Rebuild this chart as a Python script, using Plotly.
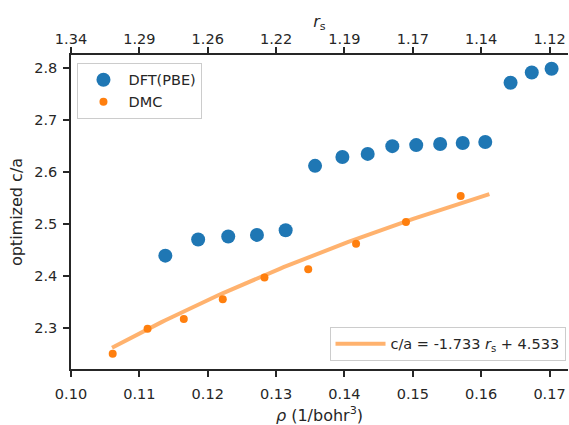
import numpy as np
import plotly.graph_objects as go

# DFT(PBE) data
dft_rho = [0.1138, 0.1186, 0.1230, 0.1272, 0.1314, 0.1357, 0.1397, 0.1434,
           0.1470, 0.1505, 0.1540, 0.1573, 0.1606, 0.1643, 0.1674, 0.1703]
dft_ca = [2.439, 2.470, 2.476, 2.479, 2.488, 2.612, 2.629, 2.635,
          2.650, 2.652, 2.654, 2.656, 2.658, 2.772, 2.792, 2.799]

# DMC data
dmc_rho = [0.1061, 0.1112, 0.1165, 0.1222, 0.1283, 0.1347, 0.1417, 0.1490, 0.1570]
dmc_ca = [2.250, 2.298, 2.317, 2.355, 2.397, 2.413, 2.462, 2.504, 2.554]

# linear fit in r_s
fit_slope = -1.733
fit_intercept = 4.533
fit_rho_min, fit_rho_max = 0.1060, 0.1612

# top axis ticks (r_s)
top_tick_rho = [0.10, 0.11, 0.12, 0.13, 0.14, 0.15, 0.16, 0.17]
top_tick_labels = ["1.34", "1.29", "1.26", "1.22", "1.19", "1.17", "1.14", "1.12"]

bottom_ticks = [0.10, 0.11, 0.12, 0.13, 0.14, 0.15, 0.16, 0.17]
y_ticks = [2.3, 2.4, 2.5, 2.6, 2.7, 2.8]

def rs_of_rho(rho):
    return (3.0 / (4.0 * np.pi * np.asarray(rho))) ** (1.0 / 3.0)

fit_x = np.linspace(fit_rho_min, fit_rho_max, 100)
fit_y = fit_slope * rs_of_rho(fit_x) + fit_intercept

FONT = "DejaVu Sans"
TXT = "#262626"
TICK = 14.5
LAB = 16

fig = go.Figure()
fig.add_trace(go.Scatter(x=dft_rho, y=dft_ca, mode="markers", name="DFT(PBE)",
                         marker=dict(color="#1f77b4", size=14), legend="legend"))
fig.add_trace(go.Scatter(x=dmc_rho, y=dmc_ca, mode="markers", name="DMC",
                         marker=dict(color="#ff7f0e", size=8), legend="legend"))
fig.add_trace(go.Scatter(x=fit_x, y=fit_y, mode="lines",
                         name="c/a = -1.733 <i>r</i><sub>s</sub> + 4.533",
                         line=dict(color="rgba(255,127,14,0.6)", width=4),
                         legend="legend2"))
fig.add_trace(go.Scatter(x=[0.12], y=[2.5], mode="markers", xaxis="x2",
                         marker=dict(opacity=0), showlegend=False, hoverinfo="skip"))

xr = [0.10, 0.1727]
axis_common = dict(showgrid=False, zeroline=False, showline=True, linecolor=TXT,
                   linewidth=1.5, ticks="outside", ticklen=6, tickwidth=1.5,
                   tickcolor=TXT, tickfont=dict(size=TICK, color=TXT, family=FONT),
                   automargin=False)

fig.update_layout(
    width=569, height=425,
    margin=dict(l=71, r=1, t=55, b=56),
    paper_bgcolor="white", plot_bgcolor="white",
    font=dict(family=FONT, color=TXT, size=TICK),
    xaxis=dict(range=xr, tickvals=bottom_ticks,
               ticktext=[f"{v:.2f}" for v in bottom_ticks],
               title=dict(text="<i>ρ</i> (1/bohr<sup>3</sup>)", font=dict(size=LAB), standoff=16),
               ticklabelstandoff=5, **axis_common),
    xaxis2=dict(range=xr, overlaying="x", side="top", tickvals=top_tick_rho,
                ticktext=top_tick_labels,
                title=dict(text="<i>r</i><sub>s</sub>", font=dict(size=LAB), standoff=0),
                ticklabelstandoff=-3, **axis_common),
    yaxis=dict(range=[2.2206, 2.8256], tickvals=y_ticks,
               ticktext=[f"{v:.1f}" for v in y_ticks],
               title=dict(text="optimized c/a", font=dict(size=LAB), standoff=8),
               ticklabelstandoff=3, **axis_common),
    legend=dict(x=0.013, y=0.975, xanchor="left", yanchor="top", itemwidth=40,
                bgcolor="rgba(255,255,255,0.8)", bordercolor="#cccccc", borderwidth=1,
                font=dict(size=TICK, color=TXT, family=FONT)),
    legend2=dict(x=0.995, y=0.026, xanchor="right", yanchor="bottom", itemwidth=50,
                 bgcolor="rgba(255,255,255,0.8)", bordercolor="#cccccc", borderwidth=1,
                 font=dict(size=TICK, color=TXT, family=FONT)),
    showlegend=True,
)

fig.write_html("out.html")
